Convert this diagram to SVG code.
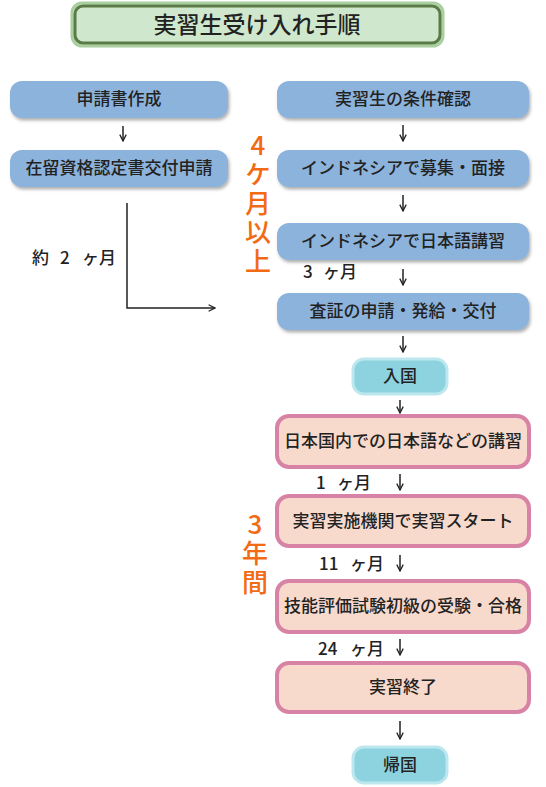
<svg xmlns="http://www.w3.org/2000/svg" width="546" height="787" viewBox="0 0 546 787">
<defs>
<filter id="sh" x="-10%" y="-20%" width="120%" height="150%">
<feDropShadow dx="1.5" dy="2.5" stdDeviation="1.5" flood-color="#555" flood-opacity="0.45"/>
</filter>
<marker id="ah" viewBox="0 0 10 10" refX="9" refY="5" markerWidth="8" markerHeight="8" markerUnits="userSpaceOnUse" orient="auto">
<path d="M1,1 L9,5 L1,9" fill="none" stroke="#222" stroke-width="1.6"/>
</marker>
</defs>
<style>
text{font-family:"Noto Sans CJK JP","Noto Sans",sans-serif;fill:#222}
.bt{font-size:17px;font-weight:500;text-anchor:middle}
.blue{fill:#8cb3db;filter:url(#sh)}
.pink{fill:#f8dacd;stroke:#d883a5;stroke-width:4}
.cyan{fill:#8dd2df;stroke:#bde7ef;stroke-width:3}
.lbl{font-size:17px;font-weight:500}
.or{font-size:26px;font-weight:500;fill:#f26b14;writing-mode:vertical-rl;text-orientation:upright;letter-spacing:3px}
.ar{stroke:#222;stroke-width:1.5;fill:none;marker-end:url(#ah)}
</style>
<rect width="546" height="787" fill="#fff"/>
<g id="title">
<rect x="72" y="3" width="371" height="43" rx="10" fill="#cfe7cc" stroke="#a9cf9e" stroke-width="3"/>
<rect x="75" y="6" width="365" height="37" rx="8" fill="#cfe7cc" stroke="#5a7a46" stroke-width="3"/>
<text x="257" y="33" font-size="23" text-anchor="middle" font-weight="500">実習生受け入れ手順</text>
</g>
<g id="n1"><rect class="blue" x="10" y="81" width="218" height="37" rx="12"/><text class="bt" x="119" y="105">申請書作成</text></g>
<g id="n2"><rect class="blue" x="10" y="150" width="218" height="37" rx="12"/><text class="bt" x="119" y="174">在留資格認定書交付申請</text></g>
<g id="n3"><rect class="blue" x="277" y="81" width="252" height="37" rx="12"/><text class="bt" x="403" y="105">実習生の条件確認</text></g>
<g id="n4"><rect class="blue" x="277" y="150" width="252" height="37" rx="12"/><text class="bt" x="403" y="174">インドネシアで募集・面接</text></g>
<g id="n5"><rect class="blue" x="277" y="223" width="252" height="37" rx="12"/><text class="bt" x="403" y="247">インドネシアで日本語講習</text></g>
<g id="n6"><rect class="blue" x="277" y="293" width="252" height="37" rx="12"/><text class="bt" x="403" y="317">査証の申請・発給・交付</text></g>
<g id="n7"><rect class="cyan" x="353" y="359" width="94" height="35" rx="11"/><text class="bt" x="400" y="382">入国</text></g>
<g id="n8"><rect class="pink" x="277" y="416" width="252" height="51" rx="12"/><text class="bt" x="403" y="447">日本国内での日本語などの講習</text></g>
<g id="n9"><rect class="pink" x="277" y="496" width="252" height="50" rx="12"/><text class="bt" x="403" y="527">実習実施機関で実習スタート</text></g>
<g id="n10"><rect class="pink" x="277" y="581" width="252" height="51" rx="12"/><text class="bt" x="403" y="612">技能評価試験初級の受験・合格</text></g>
<g id="n11"><rect class="pink" x="277" y="663" width="252" height="49" rx="12"/><text class="bt" x="403" y="693">実習終了</text></g>
<g id="n12"><rect class="cyan" x="353" y="747" width="94" height="36" rx="11"/><text class="bt" x="400" y="771">帰国</text></g>
<g id="connectors">
<line class="ar" x1="123" y1="126" x2="123" y2="141"/>
<line class="ar" x1="403" y1="125" x2="403" y2="141"/>
<line class="ar" x1="403" y1="195" x2="403" y2="211"/>
<line class="ar" x1="403" y1="269" x2="403" y2="285"/>
<line class="ar" x1="403" y1="336" x2="403" y2="352"/>
<line class="ar" x1="400" y1="400" x2="400" y2="413"/>
<line class="ar" x1="400" y1="474" x2="400" y2="490"/>
<line class="ar" x1="400" y1="555" x2="400" y2="571"/>
<line class="ar" x1="400" y1="639" x2="400" y2="655"/>
<line class="ar" x1="400" y1="721" x2="400" y2="739"/>
<path class="ar" d="M127,203 L127,308 L215,308" stroke-width="2"/>
</g>
<g id="labels">
<text class="lbl" y="264"><tspan x="32">約</tspan><tspan x="60">2</tspan><tspan x="82">ヶ月</tspan></text>
<text class="lbl" y="278"><tspan x="303">3</tspan><tspan x="323">ヶ月</tspan></text>
<text class="lbl" y="489"><tspan x="316">1</tspan><tspan x="337">ヶ月</tspan></text>
<text class="lbl" y="570"><tspan x="319">11</tspan><tspan x="350">ヶ月</tspan></text>
<text class="lbl" y="655"><tspan x="318">24</tspan><tspan x="350">ヶ月</tspan></text>
<text class="or" x="258" y="132">4ケ月以上</text>
<text class="or" x="255" y="511">3年間</text>
</g>
</svg>
